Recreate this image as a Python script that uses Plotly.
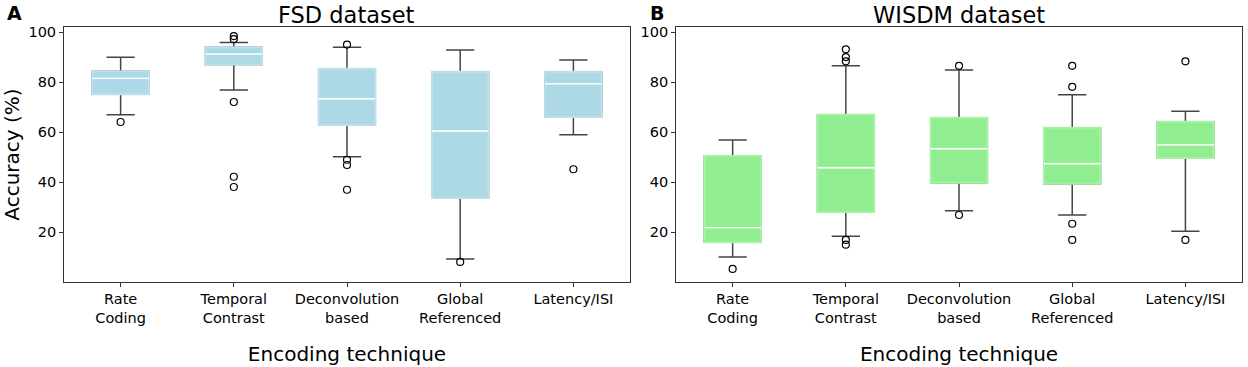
import plotly.graph_objects as go

categories = ["Rate<br>Coding", "Temporal<br>Contrast", "Deconvolution<br>based",
              "Global<br>Referenced", "Latency/ISI"]
positions = [1, 2, 3, 4, 5]
y_ticks = [20, 40, 60, 80, 100]

fsd_lower = [67.0, 76.9, 50.2, 9.3, 59.0]
fsd_q1 = [75.2, 87.1, 62.9, 33.7, 66.1]
fsd_median = [81.6, 91.3, 73.4, 60.5, 79.4]
fsd_q3 = [84.4, 94.0, 85.4, 84.2, 84.2]
fsd_upper = [90.0, 95.9, 94.0, 92.9, 88.9]
fsd_outliers = [[64.1], [98.5, 97.3, 72.1, 42.2, 38.1], [95.1, 49.0, 46.9, 37.0], [8.1], [45.2]]

wisdm_lower = [10.1, 18.4, 28.6, 26.9, 20.4]
wisdm_q1 = [16.0, 28.1, 39.8, 39.4, 49.7]
wisdm_median = [21.8, 45.8, 53.4, 47.4, 55.0]
wisdm_q3 = [50.5, 67.0, 65.8, 61.8, 64.2]
wisdm_upper = [56.9, 86.6, 84.9, 75.0, 68.4]
wisdm_outliers = [[5.3], [93.2, 90.1, 88.4, 16.9, 15.0], [86.6, 26.9], [86.6, 78.2, 23.4, 16.9], [88.4, 16.9]]

FONT = "DejaVu Sans"
fig = go.Figure()


def add_panel(lower, q1, med, q3, upper, outliers, fill, edge, xa, ya):
    # whiskers (dark)
    fig.add_trace(go.Box(x=positions, q1=q1, median=med, q3=q3,
                         lowerfence=lower, upperfence=upper,
                         width=0.5, whiskerwidth=0.5, boxpoints=False,
                         line=dict(color="#444444", width=1.5),
                         fillcolor="rgba(0,0,0,0)", showlegend=False,
                         xaxis=xa, yaxis=ya, hoverinfo="skip"))
    # box body
    fig.add_trace(go.Box(x=positions, q1=q1, median=med, q3=q3,
                         lowerfence=q1, upperfence=q3,
                         width=0.5, whiskerwidth=0, boxpoints=False,
                         line=dict(color=edge, width=2),
                         fillcolor=fill, showlegend=False,
                         xaxis=xa, yaxis=ya))
    # white median line
    fig.add_trace(go.Box(x=positions, q1=med, median=med, q3=med,
                         lowerfence=med, upperfence=med,
                         width=0.5, whiskerwidth=0, boxpoints=False,
                         line=dict(color="white", width=1.3),
                         fillcolor="rgba(0,0,0,0)", showlegend=False,
                         xaxis=xa, yaxis=ya, hoverinfo="skip"))
    ox, oy = [], []
    for p, vals in zip(positions, outliers):
        for v in vals:
            ox.append(p)
            oy.append(v)
    fig.add_trace(go.Scatter(x=ox, y=oy, mode="markers", showlegend=False,
                             marker=dict(symbol="circle-open", size=7,
                                         color="black", line=dict(width=1.2)),
                             xaxis=xa, yaxis=ya))


add_panel(fsd_lower, fsd_q1, fsd_median, fsd_q3, fsd_upper, fsd_outliers,
          "#ADD8E6", "#BEE0EC", "x", "y")
add_panel(wisdm_lower, wisdm_q1, wisdm_median, wisdm_q3, wisdm_upper, wisdm_outliers,
          "#90EE90", "#A6F2A6", "x2", "y2")

xcommon = dict(range=[0.5, 5.5], tickvals=positions, ticktext=categories,
               showline=True, linecolor="#333333", linewidth=1, mirror=True,
               ticks="outside", ticklen=4, tickcolor="#333333", showgrid=False,
               zeroline=False, automargin=False,
               tickfont=dict(family=FONT, size=14.5, color="black"),
               title=dict(text="Encoding technique", standoff=22,
                          font=dict(family=FONT, size=20, color="black")))
ycommon = dict(range=[0.2, 102], tickvals=y_ticks,
               showline=True, linecolor="#333333", linewidth=1, mirror=True,
               ticks="outside", ticklen=4, tickcolor="#333333", showgrid=False,
               zeroline=False, automargin=False,
               tickfont=dict(family=FONT, size=14.5, color="black"))

fig.update_layout(
    width=1248, height=367,
    margin=dict(l=0, r=0, t=0, b=0),
    paper_bgcolor="white", plot_bgcolor="white",
    xaxis=dict(domain=[0.0513, 0.5048], **xcommon),
    yaxis=dict(domain=[0.2324, 0.9256], **ycommon,
               title=dict(text="Accuracy (%)", standoff=8,
                          font=dict(family=FONT, size=20, color="black"))),
    xaxis2=dict(domain=[0.5417, 0.9952], anchor="y2", **xcommon),
    yaxis2=dict(domain=[0.2324, 0.9256], anchor="x2", **ycommon),
    annotations=[
        dict(text="FSD dataset", x=0.278, y=1.0, xref="paper", yref="paper",
             xanchor="center", yanchor="top", showarrow=False,
             font=dict(family=FONT, size=22.5, color="black")),
        dict(text="WISDM dataset", x=0.7685, y=1.0, xref="paper", yref="paper",
             xanchor="center", yanchor="top", showarrow=False,
             font=dict(family=FONT, size=22.5, color="black")),
        dict(text="<b>A</b>", x=0.004, y=1.0, xref="paper", yref="paper",
             xanchor="left", yanchor="top", showarrow=False,
             font=dict(family=FONT, size=19, color="black")),
        dict(text="<b>B</b>", x=0.519, y=1.0, xref="paper", yref="paper",
             xanchor="left", yanchor="top", showarrow=False,
             font=dict(family=FONT, size=19, color="black")),
    ],
)

fig.write_html("out.html", config={"displayModeBar": False},
               post_script="document.body.style.margin='0';")
